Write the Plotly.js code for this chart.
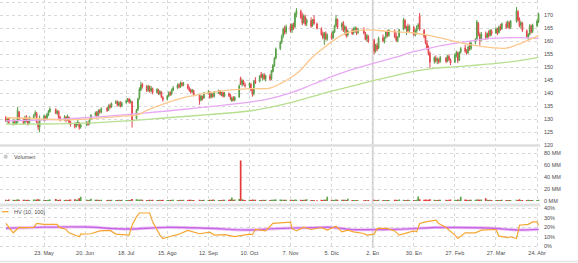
<!DOCTYPE html>
<html>
<head>
<meta charset="utf-8">
<script src="https://cdn.plot.ly/plotly-3.0.1.min.js"></script>
<style>html,body{margin:0;padding:0;background:#fff;}#chart{width:578px;height:263px;}</style>
</head>
<body>
<div id="chart"></div>
<script>
// ---- categories ----
const firstDay = '2022-04-27';
const lastDay = '2023-04-25';
const holidays = ['2022-05-30','2022-06-20','2022-07-04','2022-09-05','2022-11-24','2022-12-26',
                  '2023-01-02','2023-01-16','2023-02-20','2023-04-07'];

// ---- daily prices (one line per week) ----
const openP = [
130.8,129.2,130.5,
128.7,129.4,128.2,129.0,132.8,
130.0,128.8,131.0,129.8,128.6,
130.5,131.6,132.3,128.6,127.0,
129.9,131.0,130.2,131.7,132.9,
133.8,132.2,133.0,130.9,
130.0,130.9,129.8,130.8,129.1,
128.2,127.4,128.1,128.6,127.0,
127.9,128.8,128.2,130.0,
131.7,132.6,131.5,133.4,132.7,
134.3,133.5,135.4,134.7,
136.2,136.9,135.4,136.5,135.2,
136.4,137.1,137.9,136.7,136.8,
130.2,133.8,138.2,141.2,143.5,
142.6,141.2,142.6,140.9,141.8,
140.4,141.4,139.8,140.5,138.4,
137.7,139.0,140.3,139.6,141.2,
142.0,143.3,142.5,143.9,143.0,
143.4,142.1,141.3,140.6,141.0,
139.2,137.4,138.8,138.2,
139.9,140.5,138.6,139.6,138.9,
140.1,140.9,139.5,140.3,138.9,
139.8,139.4,137.0,138.2,137.4,
138.6,145.8,143.4,144.6,143.2,
143.0,143.5,141.6,139.8,145.0,
144.6,147.2,146.0,147.0,145.4,
146.6,145.6,148.4,150.6,153.6,
157.2,159.8,162.0,164.8,163.6,
166.0,164.2,166.2,165.6,170.4,
171.6,169.6,167.2,169.4,167.0,
168.0,166.0,168.4,166.6,
164.8,162.8,161.2,163.0,160.8,
162.2,161.4,163.6,166.0,168.4,
165.6,167.0,164.4,165.2,162.4,
164.2,163.2,164.6,165.0,163.4,
164.4,163.0,161.0,161.8,
160.4,156.4,158.4,157.4,
161.4,160.0,161.6,163.4,162.2,
164.0,162.0,160.2,161.8,
164.6,168.0,164.8,165.8,164.2,
165.4,162.8,164.0,165.6,169.8,
164.2,162.0,159.2,157.6,155.4,
152.2,153.6,152.6,153.0,152.2,
153.6,152.4,154.2,152.8,
152.0,154.6,155.6,152.8,155.8,
157.4,156.4,155.6,157.6,157.2,
159.6,161.0,166.8,162.6,160.8,
162.6,161.6,163.2,162.2,164.0,
163.2,164.6,163.4,165.4,164.8,
166.6,165.6,167.2,165.4,
167.6,171.4,168.4,166.2,167.0,
164.0,161.6,162.8,165.8,163.8,
166.0,167.6
];
const highP = [
131.2,130.6,130.9,
130.0,129.8,130.0,134.8,133.2,
130.4,131.4,131.6,130.2,131.2,
132.0,133.4,132.8,129.2,131.5,
131.8,131.4,132.4,133.6,134.6,
134.2,133.6,133.4,131.2,
131.6,131.2,131.8,131.0,129.5,
128.8,128.9,129.8,128.9,128.6,
129.2,129.3,130.4,132.0,
133.0,133.2,133.8,133.9,134.6,
134.8,135.7,136.1,136.5,
137.4,137.2,136.9,137.0,136.8,
137.6,138.2,138.0,137.6,137.0,
134.0,138.3,142.3,144.4,144.0,
143.2,143.3,143.0,142.8,142.2,
142.0,141.7,141.2,140.9,138.9,
139.4,140.7,140.8,141.8,142.8,
143.8,143.8,144.5,144.4,144.4,
143.6,142.6,141.8,141.7,141.4,
139.6,139.3,139.1,140.5,
141.3,140.8,140.2,140.0,140.9,
141.4,141.2,140.7,140.6,140.5,
140.3,139.8,138.7,139.0,138.9,
143.5,146.4,145.4,145.2,144.0,
144.2,144.0,142.0,145.0,146.2,
147.0,148.2,147.6,147.8,147.2,
147.4,149.0,151.2,154.0,157.6,
160.2,162.6,165.2,166.0,166.4,
166.8,167.0,167.2,171.2,172.8,
172.2,171.0,170.4,170.2,168.8,
169.2,168.6,170.0,167.2,
165.4,163.8,163.6,163.8,163.0,
163.4,164.2,166.4,170.2,168.8,
167.4,167.8,166.2,165.8,164.6,
165.0,165.4,165.8,165.4,165.2,
165.4,163.6,162.8,162.4,
161.0,159.0,159.4,161.8,
162.6,161.8,164.0,164.4,164.8,
164.6,163.4,162.0,164.8,
169.0,168.6,166.0,166.8,166.4,
165.8,164.6,166.2,167.0,170.9,
164.8,162.6,160.4,158.4,156.0,
154.2,154.6,153.8,153.6,154.4,
154.0,154.8,155.0,153.4,
155.4,156.4,156.0,156.2,157.8,
158.6,157.0,158.4,159.6,160.0,
161.2,168.2,167.4,163.4,163.6,
163.8,163.4,164.2,164.8,164.6,
165.4,165.2,166.0,166.6,167.2,
167.6,168.0,167.8,168.2,
173.2,172.0,169.2,167.8,167.4,
164.6,163.2,166.6,166.4,166.8,
168.4,171.0
];
const lowP = [
129.0,128.7,128.2,
127.6,127.9,127.8,128.5,129.6,
127.9,128.2,128.9,127.6,128.3,
130.0,131.0,128.4,125.8,125.0,
129.2,129.5,129.8,131.2,132.6,
132.0,131.8,130.2,129.2,
129.4,128.9,129.3,128.5,127.2,
126.5,126.8,127.6,126.0,126.4,
127.4,127.5,127.9,129.8,
131.2,130.8,131.2,132.1,132.3,
132.8,133.2,134.1,134.4,
135.9,135.0,134.9,134.5,134.8,
136.0,136.6,136.0,136.1,126.8,
129.9,133.2,137.6,140.8,141.8,
140.5,140.6,140.2,140.4,139.6,
139.9,139.4,139.3,138.2,136.8,
137.2,138.5,139.0,139.2,140.8,
141.7,141.9,142.1,142.6,142.7,
141.5,140.6,139.8,140.1,138.8,
135.6,136.9,137.3,137.9,
139.5,137.9,138.1,138.3,138.4,
139.8,139.2,138.9,138.4,138.5,
138.6,137.3,136.8,136.9,136.9,
138.2,143.2,142.6,143.0,142.2,
142.0,140.8,138.7,139.2,143.6,
144.2,145.8,144.8,145.2,144.6,
144.8,145.2,148.0,150.2,153.0,
156.6,159.0,161.2,162.6,162.8,
163.4,163.2,164.4,165.2,169.2,
168.6,166.2,166.8,166.0,165.8,
165.2,165.6,166.4,164.6,
162.2,160.8,158.6,160.4,160.2,
160.6,160.8,163.2,165.4,164.8,
164.2,163.6,162.4,161.4,161.8,
162.4,162.6,163.4,162.4,162.8,
162.6,160.4,159.8,159.4,
155.0,155.6,156.2,157.0,
159.6,159.2,161.0,161.6,161.8,
161.2,159.8,159.6,161.4,
164.2,164.6,162.4,163.2,163.6,
162.0,161.8,162.6,164.6,164.0,
161.2,158.8,156.8,154.6,149.8,
151.4,151.8,151.2,151.4,151.8,
151.6,152.0,152.4,150.8,
151.6,153.8,151.6,152.4,155.2,
155.6,154.8,155.2,156.4,156.6,
158.8,160.6,162.0,158.4,160.2,
160.6,160.8,161.4,161.8,162.2,
162.8,162.4,163.0,164.0,164.4,
164.8,165.0,164.6,164.8,
167.2,167.6,165.4,164.8,163.6,
161.2,160.5,162.2,163.0,163.2,
165.4,167.0
];
const closeP = [
129.5,130.2,128.6,
129.0,128.4,129.3,133.5,130.2,
128.5,130.6,129.4,128.2,130.8,
131.4,132.6,128.9,127.0,129.8,
131.2,130.1,131.8,133.0,134.0,
132.4,133.1,130.6,129.8,
130.8,129.6,131.2,128.9,127.9,
127.2,128.3,129.0,126.9,127.8,
128.6,128.0,129.9,131.6,
132.5,131.4,133.3,132.8,134.1,
133.4,135.2,134.6,136.0,
136.8,135.5,136.4,135.0,136.2,
137.0,137.8,136.6,137.2,129.8,
133.5,137.9,141.6,143.2,142.4,
141.0,142.7,140.8,141.9,140.3,
141.5,139.9,140.6,138.6,137.6,
138.9,140.2,139.5,141.3,142.1,
143.2,142.4,144.0,143.1,143.7,
142.0,141.1,140.5,141.2,139.4,
137.2,138.9,138.0,140.0,
140.6,138.4,139.7,138.8,140.3,
141.0,139.6,140.2,138.8,139.9,
139.2,138.0,138.2,137.4,138.4,
142.8,143.6,144.8,143.4,142.9,
143.8,141.2,139.6,144.6,144.0,
146.6,146.2,147.2,145.6,146.8,
145.4,148.6,150.8,153.4,157.0,
159.6,161.8,164.6,163.4,165.6,
164.0,166.4,165.0,170.6,171.8,
169.2,167.0,169.8,166.6,168.2,
165.8,168.2,166.8,165.0,
162.6,161.4,163.2,161.0,162.4,
161.2,163.8,165.8,168.6,165.4,
166.8,164.2,165.6,162.2,164.0,
163.0,164.8,165.2,163.2,164.6,
163.2,160.8,162.2,160.0,
156.2,158.6,157.0,161.2,
160.2,161.4,163.6,162.4,164.2,
161.8,160.4,161.6,164.4,
168.2,165.2,165.6,164.0,165.8,
162.6,164.2,165.4,166.4,164.6,
161.8,159.4,157.4,155.2,152.0,
153.8,152.4,153.2,152.0,153.8,
152.2,154.4,153.0,151.6,
154.8,155.8,152.6,155.6,157.2,
156.2,155.4,157.8,157.0,159.4,
160.8,167.4,162.8,160.4,162.8,
161.4,163.0,162.0,164.2,163.0,
164.8,163.2,165.6,164.6,166.8,
165.4,167.4,165.2,167.8,
171.8,168.2,166.0,167.2,164.2,
161.8,162.6,166.0,163.6,166.2,
167.8,170.4
];
// volume in millions (MM)
const volumeMM = [
2.2,1.8,2.4,
2.0,1.6,2.1,2.8,2.3,
1.9,2.2,1.7,2.0,1.8,
2.4,2.1,2.6,3.0,2.7,
2.0,1.8,1.7,2.2,2.4,
3.2,2.0,1.8,2.5,
1.6,2.0,1.8,2.2,2.6,
2.8,2.2,2.4,4.6,7.2,
2.4,1.8,2.2,3.6,
2.0,1.9,2.3,1.8,2.0,
1.7,2.1,1.6,1.9,
1.8,1.5,1.9,1.7,2.0,
1.6,1.8,1.7,2.0,3.4,
3.0,2.6,2.2,2.4,2.0,
1.8,1.6,2.0,1.7,1.9,
1.6,1.8,2.1,1.7,1.9,
1.5,1.7,1.6,2.0,2.2,
1.8,1.6,2.1,1.7,1.9,
1.6,1.9,2.0,1.7,1.8,
2.1,1.7,1.6,1.9,
1.8,2.2,1.7,2.6,2.0,
1.6,1.8,1.7,2.0,1.9,
2.0,2.6,6.0,2.2,2.6,
3.4,68.0,3.0,2.2,1.8,
2.0,1.8,2.6,2.2,1.9,
1.8,1.6,2.0,1.7,1.9,
1.8,2.0,2.2,2.4,2.6,
2.4,2.2,2.0,1.9,2.1,
2.2,2.0,1.8,2.6,2.3,
2.0,1.8,2.2,1.9,2.8,
1.8,1.6,1.7,1.2,
1.9,1.7,2.4,2.0,7.2,
2.0,1.8,2.2,2.6,2.0,
1.9,2.2,2.0,1.8,3.8,
1.6,1.8,1.5,1.7,1.4,
1.3,1.5,1.4,1.6,
2.0,1.8,1.6,1.9,
1.7,1.6,1.8,1.5,1.7,
1.9,2.0,1.7,2.4,
2.2,1.8,1.7,1.9,1.6,
1.8,1.7,2.0,7.4,2.8,
2.2,2.4,2.0,2.2,3.0,
2.0,1.8,1.7,1.9,2.2,
1.9,1.8,2.0,2.6,
2.0,1.8,2.4,1.9,7.2,
2.4,2.2,1.8,2.0,2.3,
1.9,2.6,2.4,2.0,2.6,
4.6,2.0,1.8,1.9,1.7,
1.6,1.5,1.7,1.6,1.9,
1.8,1.6,1.7,1.5,
2.0,1.8,2.8,1.6,1.7,
1.8,1.9,1.7,1.6,1.8,
1.7,2.0
];

// ---- moving averages ----
const maFastDates = ['2022-04-27','2022-05-13','2022-06-03','2022-06-24','2022-07-15','2022-07-25','2022-08-01','2022-08-15','2022-08-29','2022-09-12','2022-09-26','2022-10-10','2022-10-24','2022-11-01','2022-11-08','2022-11-14','2022-11-21','2022-11-28','2022-12-05','2022-12-12','2022-12-19','2022-12-30','2023-01-13','2023-01-27','2023-02-10','2023-02-24','2023-03-10','2023-03-24','2023-04-03','2023-04-10','2023-04-17','2023-04-25'];
const maFast = [130.6,130.4,129.8,130.2,131.2,131.6,133.4,136.4,138.7,140.2,141.2,141.8,142.0,144.0,146.4,149.0,153.4,156.8,159.8,162.4,163.8,164.4,163.8,163.4,162.2,160.4,158.6,157.6,157.4,158.6,160.2,162.2];
const maSlowDates = ['2022-04-27','2022-05-23','2022-06-20','2022-07-18','2022-08-15','2022-09-12','2022-10-10','2022-10-24','2022-11-07','2022-11-21','2022-12-05','2022-12-19','2023-01-03','2023-01-17','2023-01-30','2023-02-13','2023-02-27','2023-03-13','2023-03-27','2023-04-10','2023-04-25'];
const maMid = [129.4,129.8,130.6,131.8,133.2,134.8,136.6,138.0,140.2,143.2,146.4,149.2,151.6,153.8,156.0,157.8,159.2,160.4,161.2,161.4,161.1];
const maLong = [128.2,128.2,128.5,129.4,130.6,131.8,133.2,134.6,136.4,138.6,140.8,142.8,145.0,146.8,148.4,149.6,150.2,150.8,151.5,152.4,153.8];

// ---- historical volatility (%) ----
const hvShortDates = ['2022-04-27','2022-04-29','2022-05-02','2022-05-04','2022-05-06','2022-05-11','2022-05-16','2022-05-18','2022-05-23','2022-06-01','2022-06-02','2022-06-07','2022-06-09','2022-06-16','2022-06-17','2022-06-24','2022-06-30','2022-07-07','2022-07-11','2022-07-20','2022-07-22','2022-07-25','2022-07-27','2022-08-03','2022-08-05','2022-08-10','2022-08-12','2022-08-16','2022-08-22','2022-08-29','2022-09-06','2022-09-13','2022-09-16','2022-09-23','2022-09-30','2022-10-10','2022-10-12','2022-10-14','2022-10-21','2022-10-26','2022-11-02','2022-11-07','2022-11-08','2022-11-11','2022-11-16','2022-11-21','2022-11-28','2022-12-02','2022-12-08','2022-12-12','2022-12-16','2022-12-20','2022-12-27','2022-12-29','2023-01-03','2023-01-05','2023-01-12','2023-01-17','2023-01-20','2023-01-26','2023-01-30','2023-02-01','2023-02-03','2023-02-07','2023-02-13','2023-02-14','2023-02-16','2023-02-21','2023-02-27','2023-03-01','2023-03-06','2023-03-13','2023-03-17','2023-03-27','2023-03-29','2023-04-04','2023-04-06','2023-04-10','2023-04-12','2023-04-18','2023-04-21','2023-04-24','2023-04-25'];
const hvShort = [24,20,14,17,19.7,19.5,19.7,24,23,23,20,17.6,14,9.8,12.6,13,16,16.5,12.6,11.6,22,31,35,35,25.6,11.6,8,9.8,12,16.5,13,14.6,11.6,12,10,12.6,12,17.6,16,24,24.6,25.4,18.6,16,20,17.5,19.6,16.8,21,15,16.8,15,13.3,11.6,12.6,18.6,18.6,16,11.6,14,16,15,23.9,25.6,27.4,27.4,23.9,19.6,11.6,8,14,14,16.8,17.5,10.5,9,9.8,8,22,23,25.6,25.6,22];
const hvLong = [18.8,20.0,20.2,18.0,19.8,18.8,17.0,18.2,19.0,19.4,19.8,17.4,17.4,17.6,18.4,19.6,19.6,19.4,18.6,17.0,17.6];

// ---- ticks ----
const xTickDates = ['2022-05-23','2022-06-20','2022-07-18','2022-08-15','2022-09-12','2022-10-10','2022-11-07','2022-12-05','2023-01-02','2023-01-30','2023-02-27','2023-03-27','2023-04-24'];
const xTickLabels = ['23. May','20. Jun','18. Jul','15. Ago','12. Sep','10. Oct','7. Nov','5. Dic','2. En','30. En','27. Feb','27. Mar','24. Abr'];
const priceTicks = [120,125,130,135,140,145,150,155,160,165,170,175];
const volTicks = [0,20,40,60,80];
const volTickLabels = ['0 MM','20 MM','40 MM','60 MM','80 MM'];
const hvTicks = [0,10,20,30,40];
const hvTickLabels = ['0%','10%','20%','30%','40%'];

// ---- build ----
function tradingDays(){
  const out=[]; const d=new Date(firstDay+'T00:00:00Z'); const end=new Date(lastDay+'T00:00:00Z');
  while(d<=end){ const wd=d.getUTCDay(); const s=d.toISOString().slice(0,10);
    if(wd!==0&&wd!==6&&holidays.indexOf(s)<0) out.push(s); d.setUTCDate(d.getUTCDate()+1); }
  return out;
}
const days = tradingDays();
const n = Math.min(days.length, closeP.length);
const dates = days.slice(0,n);
const volColors = dates.map((_,i)=> closeP[i]>=openP[i] ? '#5aa54a' : '#e53a3a');
const DAY = 86400000;

const W = 578, H = 263, mT=0, mB=15, mL=0, mR=38;
const plotH = H-mT-mB;
const py = p => (plotH - p)/plotH; // pixel y inside plot -> paper fraction
const gridCol = '#d9d9d9';
const tf = {family:'Liberation Sans, Arial, sans-serif', size:5.5, color:'#4a4a4a'};

const traces = [
  {type:'scatter', mode:'lines', x:maSlowDates, y:maLong, xaxis:'x', yaxis:'y', line:{color:'#b6df8f', width:1.3, shape:'spline'}, hoverinfo:'skip'},
  {type:'scatter', mode:'lines', x:maSlowDates, y:maMid, xaxis:'x', yaxis:'y', line:{color:'#e8a8f4', width:1.3, shape:'spline'}, hoverinfo:'skip'},
  {type:'scatter', mode:'lines', x:maFastDates, y:maFast, xaxis:'x', yaxis:'y', line:{color:'#fdc88e', width:1.3, shape:'spline'}, hoverinfo:'skip'},
  {type:'candlestick', x:dates, open:openP.slice(0,n), high:highP.slice(0,n), low:lowP.slice(0,n), close:closeP.slice(0,n),
   xaxis:'x', yaxis:'y', whiskerwidth:0,
   increasing:{line:{color:'#559f45', width:1}, fillcolor:'#93c787'},
   decreasing:{line:{color:'#e2454b', width:1}, fillcolor:'#f3a0a0'}},
  {type:'bar', x:dates, y:volumeMM.slice(0,n), width:dates.map(()=>1.15*DAY), xaxis:'x', yaxis:'y2', marker:{color:volColors, line:{width:0}}},
  {type:'scatter', mode:'lines', x:maSlowDates, y:hvLong, xaxis:'x', yaxis:'y3', line:{color:'rgba(228,168,245,0.65)', width:3.2, shape:'spline'}, hoverinfo:'skip'},
  {type:'scatter', mode:'lines', x:maSlowDates, y:hvLong, xaxis:'x', yaxis:'y3', line:{color:'#c766e3', width:1.4, shape:'spline'}, hoverinfo:'skip'},
  {type:'scatter', mode:'lines', x:hvShortDates, y:hvShort, xaxis:'x', yaxis:'y3', line:{color:'#f7a532', width:1.2}, hoverinfo:'skip'}
];

const commonY = {side:'right', anchor:'x', showgrid:true, gridcolor:gridCol, griddash:'dot', gridwidth:1,
  zeroline:false, showline:false, ticks:'', tickfont:tf, ticklabelstandoff:3, fixedrange:true};

const layout = {
  width:W, height:H, margin:{l:mL, r:mR, t:mT, b:mB, pad:0},
  paper_bgcolor:'#ffffff', plot_bgcolor:'#ffffff', showlegend:false,
  font:tf,
  xaxis:{type:'date', range:['2022-04-23','2023-04-26'], anchor:'y3', tickmode:'array', tickvals:xTickDates, ticktext:xTickLabels,
    showgrid:true, gridcolor:gridCol, griddash:'dot', gridwidth:1, ticks:'', showline:false, zeroline:false,
    rangeslider:{visible:false}, tickfont:tf, fixedrange:true},
  yaxis:Object.assign({}, commonY, {domain:[py(145.3),1], range:[120,175.9], tickmode:'array', tickvals:priceTicks}),
  yaxis2:Object.assign({}, commonY, {domain:[py(201),py(147.5)], range:[0,89.8], tickmode:'array', tickvals:volTicks, ticktext:volTickLabels}),
  yaxis3:Object.assign({}, commonY, {domain:[0,py(206.5)], range:[-2.12,41.9], tickmode:'array', tickvals:hvTicks, ticktext:hvTickLabels}),
  shapes:[
    {type:'line', xref:'x', yref:'paper', x0:'2023-01-02', x1:'2023-01-02', y0:0, y1:1, line:{color:'#cfcfcf', width:1.8}, layer:'below'},
    {type:'line', xref:'paper', yref:'paper', x0:0, x1:1, y0:py(145.6), y1:py(145.6), line:{color:'#dedede', width:2.5}, layer:'below'},
    {type:'line', xref:'paper', yref:'paper', x0:0, x1:1, y0:py(205), y1:py(205), line:{color:'#e2e2e2', width:3}, layer:'below'},
    {type:'line', xref:'paper', yref:'paper', x0:0, x1:578/540, y0:py(261.5), y1:py(261.5), line:{color:'#e6e6e6', width:1.5}, layer:'below'},
    {type:'circle', xref:'paper', yref:'paper', x0:3.6/540, x1:7.8/540, y0:py(158.8), y1:py(154.6), fillcolor:'#c9c9c9', line:{width:0}},
    {type:'line', xref:'paper', yref:'paper', x0:2/540, x1:8.5/540, y0:py(211.7), y1:py(211.7), line:{color:'#f7a532', width:1.3}}
  ],
  annotations:[
    {xref:'paper', yref:'paper', x:11.5/540, y:py(156.7), text:'Volumen', showarrow:false, xanchor:'left', yanchor:'middle', font:tf},
    {xref:'paper', yref:'paper', x:11.5/540, y:py(211.7), text:'HV (10, 100)', showarrow:false, xanchor:'left', yanchor:'middle', font:tf}
  ]
};

Plotly.newPlot('chart', traces, layout, {staticPlot:true, displayModeBar:false});
</script>
</body>
</html>
